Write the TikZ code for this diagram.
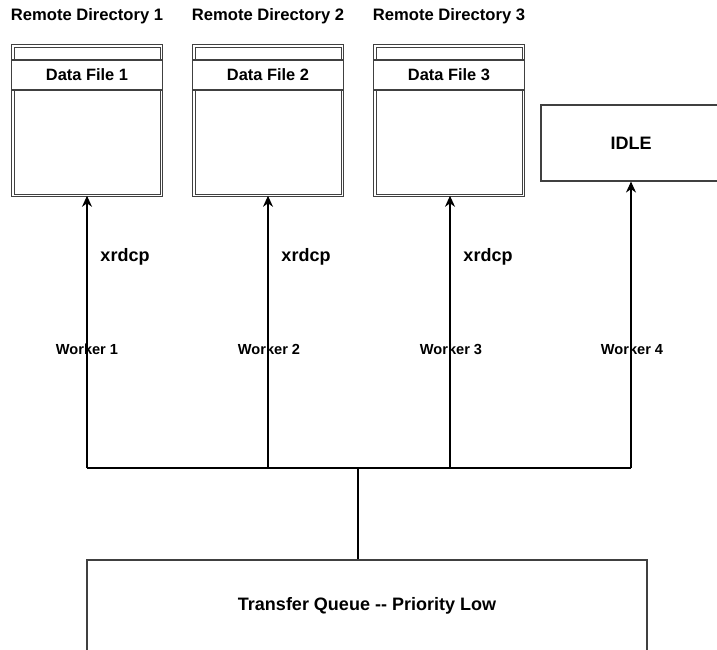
\documentclass[tikz,border=0pt]{standalone}
\usepackage{fontspec}
\setmainfont{Liberation Sans}
\usepackage{tikz}
\usetikzlibrary{positioning, arrows.meta}
\tikzset{
    dirbox/.style = {rectangle, draw = black!75, double, double distance = 1.6pt, line width = 1pt, minimum width = 148.6pt, minimum height = 149.6pt},
    filebox/.style = {rectangle, draw = black!75, fill = white, line width = 1.1pt, minimum width = 151pt, minimum height = 30pt, font = \fontsize{16.4}{18}\selectfont\bfseries},
    idlebox/.style = {rectangle, draw = black!75, line width = 1.1pt, minimum width = 180pt, minimum height = 76pt, font = \fontsize{18}{20}\selectfont\bfseries},
    queuebox/.style = {rectangle, draw = black!75, line width = 1.1pt, minimum width = 560pt, minimum height = 92pt, font = \fontsize{18}{20}\selectfont\bfseries},
    title/.style = {font = \fontsize{16.6}{18}\selectfont\bfseries, inner sep = 0pt},
    tool/.style = {font = \fontsize{18}{20}\selectfont\bfseries, inner sep = 0pt},
    worker/.style = {font = \fontsize{14.6}{16}\selectfont\bfseries, inner sep = 0pt},
    flow/.style = {-{Stealth[length = 11pt, width = 10pt, inset = 3.5pt]}, line width = 1.2pt},
    wire/.style = {line width = 1.2pt}
}

\begin{document}
\begin{tikzpicture}[x = 1pt, y = -1pt]
        \useasboundingbox (0,0) rectangle (717,649);
        \clip (0,0) rectangle (717,649);
        % remote directories
        \node [dirbox] (dir1) at (87,120.5) {};
        \node [dirbox] (dir2) at (268,120.5) {};
        \node [dirbox] (dir3) at (449,120.5) {};
        \node [filebox] (file1) at (87,75) {Data File 1};
        \node [filebox] (file2) at (268,75) {Data File 2};
        \node [filebox] (file3) at (449,75) {Data File 3};
        \node [title, above = 21pt of dir1.north] (tdir1) {Remote Directory 1};
        \node [title, above = 21pt of dir2.north] (tdir2) {Remote Directory 2};
        \node [title, above = 21pt of dir3.north] (tdir3) {Remote Directory 3};
        \node [idlebox] (idle) at (631,143) {IDLE};
        \node [queuebox] (queue) at (367,606) {Transfer Queue -{}- Priority Low};
        % fan out
        \coordinate (h1) at (87,468);
        \coordinate (h2) at (268,468);
        \coordinate (h3) at (450,468);
        \coordinate (h4) at (631,468);
        \coordinate (hq) at (358,468);
        \draw [wire] (hq) -- (hq |- queue.north);
        \draw [wire] (h1) -- (h4);
        \draw [flow] (h1) -- (h1 |- dir1.south);
        \draw [flow] (h2) -- (h2 |- dir2.south);
        \draw [flow] (h3) -- (h3 |- dir3.south);
        \draw [flow] (h4) -- (h4 |- idle.south);
        \node [worker] (w1) at (87,349) {Worker 1};
        \node [worker] (w2) at (269,349) {Worker 2};
        \node [worker] (w3) at (451,349) {Worker 3};
        \node [worker] (w4) at (632,349) {Worker 4};
        \node [tool] (x1) at (125,257) {xrdcp};
        \node [tool] (x2) at (306,257) {xrdcp};
        \node [tool] (x3) at (488,257) {xrdcp};
    \end{tikzpicture}
\end{document}
